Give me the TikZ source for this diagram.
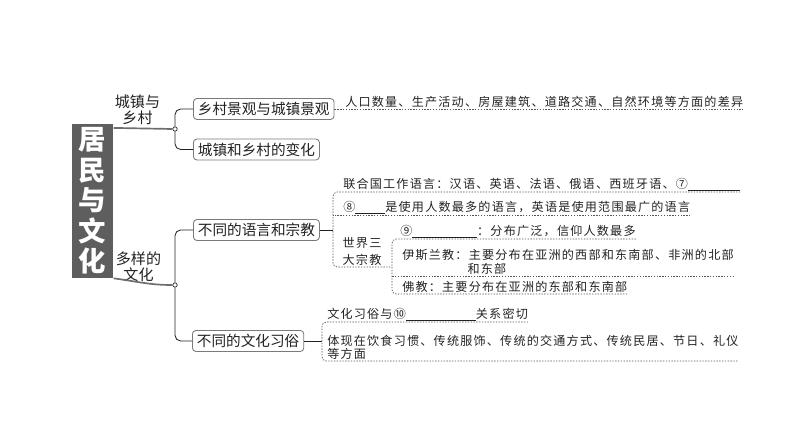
\documentclass[tikz,border=0pt]{standalone}
\usepackage{fontspec}
\newfontfamily\cjk{Noto Sans CJK SC}
\newfontfamily\cjknote{Noto Sans CJK SC}[LetterSpace=10]
\definecolor{mBar}{HTML}{5E5E5E}
\definecolor{mEdge}{HTML}{7A7A7A}
\definecolor{mLine}{HTML}{6E6E6E}
\definecolor{mDot}{HTML}{555555}
\definecolor{mInk}{HTML}{222222}
\newcommand{\blank}[1]{\rule[-1.2pt]{#1}{0.5pt}}

\begin{document}
\begin{tikzpicture}[
  x=0.025cm, y=-0.025cm,
  titlebar/.style={fill=mBar, text=white, align=center, minimum width=1.04cm,
    minimum height=3.85cm, inner sep=0pt,
    font=\cjk\bfseries\fontsize{19.5pt}{21.7pt}\selectfont},
  branch/.style={align=center, inner sep=0pt, text=mInk,
    font=\cjk\fontsize{10.7pt}{11.4pt}\selectfont},
  topic/.style={anchor=west, draw=mEdge, line width=.6pt, rounded corners=2.5pt,
    fill=white, text=mInk, inner xsep=3.2pt, inner ysep=0pt, minimum height=.525cm,
    font=\cjk\fontsize{10.4pt}{12pt}\selectfont},
  hub/.style={circle, draw=mInk, fill=white, line width=.5pt, inner sep=0pt,
    minimum size=.11cm},
  note/.style={anchor=south west, align=left, inner xsep=0pt, inner ysep=1pt,
    text=mInk, font=\cjknote\fontsize{8.6pt}{9.4pt}\selectfont},
  trunk/.style={draw=mLine, line width=1.2pt},
  link/.style={draw=mInk, line width=.6pt, rounded corners=4pt},
  dotline/.style={draw=mDot, line width=.5pt, dash pattern=on 1pt off 1pt,
    rounded corners=3pt},
]
\useasboundingbox (0,0) rectangle (794,447);

% ---- title bar and its two branches -------------------------------------
\node[titlebar] (title) at (92.5,201) {居\\民\\与\\文\\化};
\node[branch] (town)    at (137.5,109.5) {城镇与\\乡村};
\node[branch] (culture) at (138.5,266.5) {多样的\\文化};
\node[hub] (hubA) at (175,129) {};
\node[hub] (hubB) at (175,285) {};
\draw[trunk] ([yshift=-3pt]title.north east) -- (hubA.west);
\draw[trunk] (title.south east) .. controls (140,282) and (150,285) .. (hubB.west);

% ---- topic boxes ---------------------------------------------------------
\node[topic] (scene)  at (193,109)   {乡村景观与城镇景观};
\node[topic] (change) at (193,149.5) {城镇和乡村的变化};
\node[topic] (lang)   at (193,230)   {不同的语言和宗教};
\node[topic] (custom) at (192,341)   {不同的文化习俗};
\draw[link] (hubA.north) |- (scene.west);
\draw[link] (hubA.south) |- (change.west);
\draw[link] (hubB.north) |- (lang.west);
\draw[link] (hubB.south) |- (custom.west);

% ---- town and country ----------------------------------------------------
\node[note] (diff) at (345,109) {人口数量、生产活动、房屋建筑、道路交通、自然环境等方面的差异};
\draw[dotline] (scene.east) -- (diff.south east);

% ---- languages and religions ---------------------------------------------
\coordinate (langx) at (333,0);
\coordinate (relx)  at (392,0);
\node[note] (un)   at (343,192) {联合国工作语言：汉语、英语、法语、俄语、西班牙语、⑦\blank{1.3cm}};
\node[note] (most) at (343,215) {⑧\blank{.75cm}是使用人数最多的语言，英语是使用范围最广的语言};
\node[note, anchor=south, align=center,
  font=\cjknote\fontsize{8.6pt}{12pt}\selectfont] (faith) at (362,267) {世界三\\大宗教};
\node[note] (nine)   at (400,239) {⑨\blank{1.62cm}：分布广泛，信仰人数最多};
\node[note] (islam)  at (402,276) {伊斯兰教：主要分布在亚洲的西部和东南部、非洲的北部\\\phantom{伊斯兰教：}和东部};
\node[note] (buddha) at (402,294) {佛教：主要分布在亚洲的东部和东南部};
\draw[link] (lang.east) -- (lang.east -| langx);
\draw[dotline] (un.south east) -- (un.south -| langx) -- (faith.south -| langx)
  -- (faith.south -| relx);
\draw[dotline] (most.south east) -- (most.south -| langx);
\draw[dotline] (nine.south east) -- (nine.south -| relx) -- (buddha.south -| relx)
  -- (buddha.south east);
\draw[dotline] (islam.south east) -- (islam.south -| relx);

% ---- customs -------------------------------------------------------------
\coordinate (custx) at (322,0);
\node[note] (tie)   at (327,322) {文化习俗与⑩\blank{1.75cm}关系密切};
\node[note] (shows) at (327,361) {体现在饮食习惯、传统服饰、传统的交通方式、传统民居、节日、礼仪\\等方面};
\draw[link] (custom.east) -- (custom.east -| custx);
\draw[dotline] (tie.south east) -- (tie.south -| custx) -- (shows.south -| custx)
  -- (shows.south east);
\end{tikzpicture}
\end{document}
